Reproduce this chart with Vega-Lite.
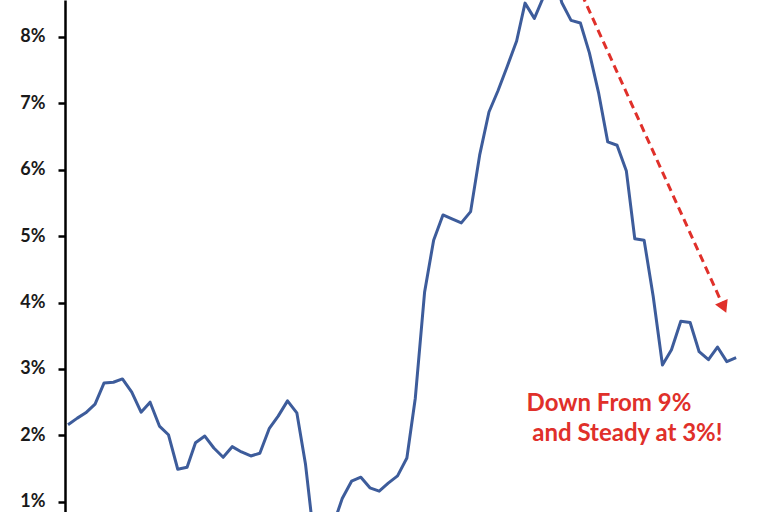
{
  "$schema": "https://vega.github.io/schema/vega-lite/v6.json",
  "width": 703,
  "height": 512,
  "autosize": {"type": "none"},
  "padding": {"left": 65, "top": 0, "right": 0, "bottom": 0},
  "background": "white",
  "config": {"view": {"stroke": null}},
  "datasets": {
    "cpi": [
      {"date": "2018-01-01", "value": 2.16}, {"date": "2018-02-01", "value": 2.26}, {"date": "2018-03-01", "value": 2.34}, {"date": "2018-04-01", "value": 2.47},
      {"date": "2018-05-01", "value": 2.79}, {"date": "2018-06-01", "value": 2.80}, {"date": "2018-07-01", "value": 2.85}, {"date": "2018-08-01", "value": 2.65},
      {"date": "2018-09-01", "value": 2.35}, {"date": "2018-10-01", "value": 2.50}, {"date": "2018-11-01", "value": 2.14}, {"date": "2018-12-01", "value": 2.01},
      {"date": "2019-01-01", "value": 1.49}, {"date": "2019-02-01", "value": 1.52}, {"date": "2019-03-01", "value": 1.89}, {"date": "2019-04-01", "value": 1.99},
      {"date": "2019-05-01", "value": 1.81}, {"date": "2019-06-01", "value": 1.67}, {"date": "2019-07-01", "value": 1.83}, {"date": "2019-08-01", "value": 1.75},
      {"date": "2019-09-01", "value": 1.69}, {"date": "2019-10-01", "value": 1.73}, {"date": "2019-11-01", "value": 2.10}, {"date": "2019-12-01", "value": 2.29},
      {"date": "2020-01-01", "value": 2.52}, {"date": "2020-02-01", "value": 2.34}, {"date": "2020-03-01", "value": 1.56}, {"date": "2020-04-01", "value": 0.33},
      {"date": "2020-05-01", "value": 0.12}, {"date": "2020-06-01", "value": 0.65}, {"date": "2020-07-01", "value": 1.05}, {"date": "2020-08-01", "value": 1.31},
      {"date": "2020-09-01", "value": 1.37}, {"date": "2020-10-01", "value": 1.21}, {"date": "2020-11-01", "value": 1.16}, {"date": "2020-12-01", "value": 1.28},
      {"date": "2021-01-01", "value": 1.39}, {"date": "2021-02-01", "value": 1.66}, {"date": "2021-03-01", "value": 2.56}, {"date": "2021-04-01", "value": 4.16},
      {"date": "2021-05-01", "value": 4.94}, {"date": "2021-06-01", "value": 5.32}, {"date": "2021-07-01", "value": 5.26}, {"date": "2021-08-01", "value": 5.20},
      {"date": "2021-09-01", "value": 5.37}, {"date": "2021-10-01", "value": 6.22}, {"date": "2021-11-01", "value": 6.87}, {"date": "2021-12-01", "value": 7.19},
      {"date": "2022-01-01", "value": 7.56}, {"date": "2022-02-01", "value": 7.94}, {"date": "2022-03-01", "value": 8.51}, {"date": "2022-04-01", "value": 8.28},
      {"date": "2022-05-01", "value": 8.60}, {"date": "2022-06-01", "value": 9.06}, {"date": "2022-07-01", "value": 8.52}, {"date": "2022-08-01", "value": 8.25},
      {"date": "2022-09-01", "value": 8.21}, {"date": "2022-10-01", "value": 7.76}, {"date": "2022-11-01", "value": 7.15}, {"date": "2022-12-01", "value": 6.42},
      {"date": "2023-01-01", "value": 6.37}, {"date": "2023-02-01", "value": 5.98}, {"date": "2023-03-01", "value": 4.96}, {"date": "2023-04-01", "value": 4.94},
      {"date": "2023-05-01", "value": 4.10}, {"date": "2023-06-01", "value": 3.06}, {"date": "2023-07-01", "value": 3.29}, {"date": "2023-08-01", "value": 3.72},
      {"date": "2023-09-01", "value": 3.70}, {"date": "2023-10-01", "value": 3.26}, {"date": "2023-11-01", "value": 3.14}, {"date": "2023-12-01", "value": 3.33},
      {"date": "2024-01-01", "value": 3.11}, {"date": "2024-02-01", "value": 3.17}
    ],
    "arrow": [
      {"date": "2022-08-01", "value": 9.0},
      {"date": "2023-12-22", "value": 3.93}
    ],
    "head": [
      {"date": "2023-12-22", "value": 3.93}
    ],
    "notes": [
      {"date": "2022-03-06", "value": 2.367, "label": "Down From 9%"},
      {"date": "2022-03-25", "value": 1.915, "label": "and Steady at 3%!"}
    ]
  },
  "encoding": {
    "x": {
      "field": "date", "type": "temporal",
      "scale": {"domain": ["2017-12-22", "2024-05-17"]},
      "axis": null
    },
    "y": {
      "field": "value", "type": "quantitative",
      "scale": {"domain": [0.846, 8.557], "nice": false, "zero": false},
      "axis": {
        "values": [1, 2, 3, 4, 5, 6, 7, 8],
        "labelExpr": "datum.value + '%'",
        "title": null,
        "grid": false,
        "domainColor": "black",
        "domainWidth": 2.5,
        "tickColor": "black",
        "tickWidth": 2.5,
        "tickSize": 7,
        "labelPadding": 13,
        "labelFont": "Lato",
        "labelFontWeight": "bold",
        "labelFontSize": 18,
        "labelColor": "#1a1a1a"
      }
    }
  },
  "layer": [
    {
      "data": {"name": "cpi"},
      "mark": {"type": "line", "color": "#3D5C9B", "strokeWidth": 3, "clip": true, "strokeJoin": "round"}
    },
    {
      "data": {"name": "arrow"},
      "mark": {"type": "line", "color": "#E0302A", "strokeWidth": 3, "strokeDash": [8, 5], "clip": true}
    },
    {
      "data": {"name": "head"},
      "mark": {"type": "point", "shape": "triangle-up", "angle": 156, "filled": true, "color": "#E0302A", "size": 190, "opacity": 1}
    },
    {
      "data": {"name": "notes"},
      "mark": {"type": "text", "align": "left", "baseline": "alphabetic", "font": "Lato", "fontWeight": "bold", "fontSize": 24, "color": "#E0302A"},
      "encoding": {"text": {"field": "label"}}
    }
  ]
}
